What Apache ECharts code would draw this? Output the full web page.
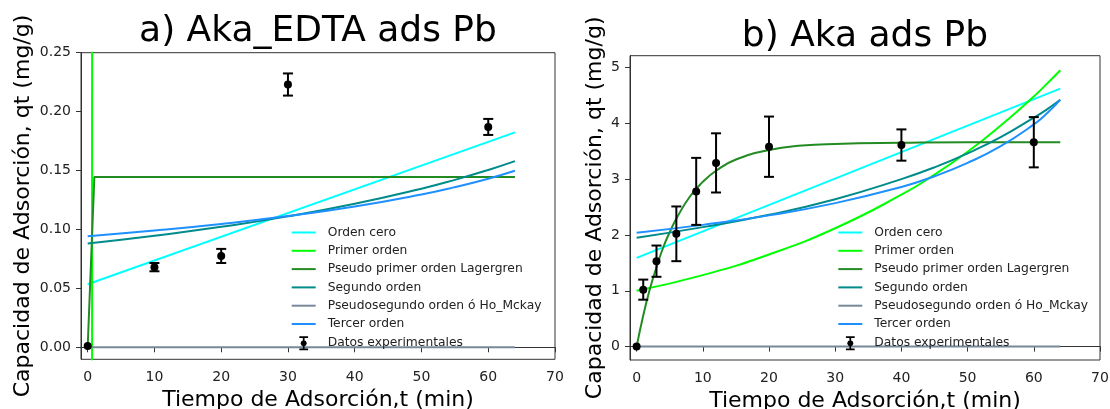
<!DOCTYPE html>
<html>
<head>
<meta charset="utf-8">
<script src="https://cdn.jsdelivr.net/npm/echarts@6/dist/echarts.min.js"></script>
<style>
html, body { margin: 0; padding: 0; background: #fff; }
#chart { width: 1110px; height: 409px; }
</style>
</head>
<body>
<div id="chart"></div>
<script>
// etiquetas de los ejes
var xTicks = [0, 10, 20, 30, 40, 50, 60, 70];
var yTicksA = [0, 0.05, 0.10, 0.15, 0.20, 0.25];
var yTicksB = [0, 1, 2, 3, 4, 5];

var legendNames = ['Orden cero', 'Primer orden', 'Pseudo primer orden Lagergren', 'Segundo orden',
    'Pseudosegundo orden ó Ho_Mckay', 'Tercer orden', 'Datos experimentales'];

// a) Aka_EDTA ads Pb
var tExpA = [0, 10, 20, 30, 60];
var qExpA = [0.001, 0.068, 0.0775, 0.223, 0.187];
var errA = [0, 0.0035, 0.006, 0.0094, 0.0068];

var tRectaA = [0, 64];
var ceroA = [0.0535, 0.1824];
var hoA = [0, 0];
var tPrimerA = [0, 1];
var primerA = [-66, 34];
var tLagerA = [0, 1, 64];
var lagerA = [0, 0.1445, 0.1445];
var tCurvaA = [0, 10, 20, 30, 40, 50, 55, 60, 64];
var segundoA = [0.0881, 0.0947, 0.1022, 0.1111, 0.1218, 0.1346, 0.1421, 0.1505, 0.158];
var tercerA = [0.0943, 0.0991, 0.1047, 0.1114, 0.1195, 0.1297, 0.1359, 0.1431, 0.1498];

// b) Aka ads Pb
var tExpB = [0, 1, 3, 6, 9, 12, 20, 40, 60];
var qExpB = [0, 1.02, 1.53, 2.02, 2.78, 3.29, 3.58, 3.61, 3.66];
var errB = [0, 0.18, 0.28, 0.49, 0.6, 0.53, 0.54, 0.28, 0.45];

var tRectaB = [0, 64];
var ceroB = [1.59, 4.62];
var hoB = [0, 0];
var tLagerB = [0, 1, 2, 3, 4, 5, 6, 8, 10, 12, 15, 20, 25, 30, 40, 50, 64];
var lagerB = [0, 0.556, 1.03, 1.42, 1.77, 2.05, 2.29, 2.68, 2.95, 3.15, 3.35, 3.52, 3.6, 3.63, 3.65, 3.66, 3.66];
var tCurvaB = [0, 10, 20, 30, 40, 45, 50, 55, 60, 62, 64];
var primerB = [1.0, 1.28, 1.65, 2.12, 2.72, 3.08, 3.49, 3.96, 4.48, 4.71, 4.95];
var segundoB = [1.95, 2.14, 2.36, 2.64, 3.0, 3.21, 3.46, 3.75, 4.1, 4.25, 4.42];
var tercerB = [2.04, 2.18, 2.35, 2.57, 2.86, 3.05, 3.29, 3.59, 3.98, 4.18, 4.42];

var colores = {
    'Orden cero': '#00FFFF',
    'Primer orden': '#00FF00',
    'Pseudo primer orden Lagergren': '#228B22',
    'Segundo orden': '#008B8B',
    'Pseudosegundo orden ó Ho_Mckay': '#778899',
    'Tercer orden': '#1E90FF'
};

var fuente = 'DejaVu Sans';
var iconoLinea = 'path://M0,0h24v2h-24z';
// barra de error con punto, solo trazos rectos
var iconoError = 'path://M0,0h10v2h-10z M4,0h2v16h-2z M0,14h10v2h-10z ' +
    'M8.6,8L7.5,10.5L5,11.6L2.5,10.5L1.4,8L2.5,5.5L5,4.4L7.5,5.5z';

function pares(t, v) {
    var out = [];
    for (var i = 0; i < t.length; i++) out.push([t[i], v[i]]);
    return out;
}

function linea(nombre, t, v, idx, suave) {
    return {
        name: nombre,
        type: 'line',
        xAxisIndex: idx,
        yAxisIndex: idx,
        data: pares(t, v),
        symbol: 'none',
        smooth: suave ? 0.5 : false,
        clip: true,
        color: colores[nombre],
        lineStyle: { width: 2, color: colores[nombre] },
        emphasis: { disabled: true },
        z: 2
    };
}

function barrasError(t, q, e, idx) {
    var data = [];
    for (var i = 0; i < t.length; i++) {
        if (e[i] > 0) data.push([t[i], q[i] - e[i], q[i] + e[i]]);
    }
    return {
        name: 'Datos experimentales',
        type: 'custom',
        xAxisIndex: idx,
        yAxisIndex: idx,
        data: data,
        itemStyle: { color: '#000' },
        z: 4,
        renderItem: function (params, api) {
            var lo = api.coord([api.value(0), api.value(1)]);
            var hi = api.coord([api.value(0), api.value(2)]);
            var w = 5;
            var st = { stroke: '#000', lineWidth: 2 };
            return {
                type: 'group',
                children: [
                    { type: 'line', shape: { x1: lo[0], y1: lo[1], x2: hi[0], y2: hi[1] }, style: st },
                    { type: 'line', shape: { x1: lo[0] - w, y1: lo[1], x2: lo[0] + w, y2: lo[1] }, style: st },
                    { type: 'line', shape: { x1: hi[0] - w, y1: hi[1], x2: hi[0] + w, y2: hi[1] }, style: st }
                ]
            };
        }
    };
}

function puntos(t, q, idx) {
    return {
        name: 'Datos experimentales',
        type: 'scatter',
        xAxisIndex: idx,
        yAxisIndex: idx,
        data: pares(t, q),
        symbolSize: 8,
        color: '#000',
        itemStyle: { color: '#000', opacity: 1 },
        emphasis: { disabled: true },
        z: 5
    };
}

function ejeX(idx) {
    return {
        type: 'value',
        gridIndex: idx,
        min: -1,
        max: 70,
        name: 'Tiempo de Adsorción,t (min)',
        nameLocation: 'middle',
        nameGap: 28,
        nameTextStyle: { fontFamily: fuente, fontSize: 22, color: '#000' },
        axisLine: { show: true, lineStyle: { color: '#333', width: 1 } },
        axisTick: { show: true, length: 5, customValues: xTicks, lineStyle: { color: '#333' } },
        axisLabel: { customValues: xTicks, margin: 11, fontFamily: fuente, fontSize: 14, color: '#222' },
        splitLine: { show: false }
    };
}

function ejeY(idx, ticks, min, max, gap, decimales) {
    return {
        type: 'value',
        gridIndex: idx,
        min: min,
        max: max,
        name: 'Capacidad de Adsorción, qt (mg/g)',
        nameLocation: 'middle',
        nameRotate: 90,
        nameGap: gap,
        nameTextStyle: { fontFamily: fuente, fontSize: 22, color: '#000' },
        axisLine: { show: true, onZero: false, lineStyle: { color: '#333', width: 1 } },
        axisTick: { show: true, length: 5, customValues: ticks, lineStyle: { color: '#333' } },
        axisLabel: {
            customValues: ticks, margin: 10, fontFamily: fuente, fontSize: 14, color: '#222',
            formatter: function (v) { return v.toFixed(decimales); }
        },
        splitLine: { show: false }
    };
}

function leyenda(izq) {
    var data = legendNames.map(function (n) {
        if (n === 'Datos experimentales') {
            return { name: n, icon: iconoError, itemStyle: { color: '#000', borderWidth: 0, opacity: 1 } };
        }
        return { name: n, icon: iconoLinea };
    });
    return {
        orient: 'vertical',
        left: izq,
        top: 226.5,
        padding: 0,
        itemWidth: 24,
        itemHeight: 14,
        itemGap: 6.3,
        selectedMode: false,
        textStyle: { fontFamily: fuente, fontSize: 12.3, color: '#222', padding: [0, 0, 0, 7] },
        data: data
    };
}

var myChart = echarts.init(document.getElementById('chart'));

var option = {
    backgroundColor: '#fff',
    animation: false,
    title: [
        { text: 'a) Aka_EDTA ads Pb', left: 318, top: 14, textAlign: 'center', padding: 0,
          textStyle: { fontFamily: fuente, fontSize: 36, fontWeight: 'normal', color: '#000' } },
        { text: 'b) Aka ads Pb', left: 865, top: 19, textAlign: 'center', padding: 0,
          textStyle: { fontFamily: fuente, fontSize: 36, fontWeight: 'normal', color: '#000' } }
    ],
    grid: [
        { left: 81, top: 52.7, width: 474, height: 306.6, outerBoundsMode: 'none',
          show: true, borderColor: '#333', borderWidth: 1, backgroundColor: 'transparent' },
        { left: 630, top: 55.7, width: 470, height: 304.3, outerBoundsMode: 'none',
          show: true, borderColor: '#333', borderWidth: 1, backgroundColor: 'transparent' }
    ],
    xAxis: [ejeX(0), ejeX(1)],
    yAxis: [
        ejeY(0, yTicksA, -0.0102, 0.25, 47, 2),
        ejeY(1, yTicksB, -0.24, 5.21, 24, 0)
    ],
    legend: [leyenda(291.7), leyenda(838.3)],
    series: [
        puntos(tExpA, qExpA, 0),
        linea('Orden cero', tRectaA, ceroA, 0, false),
        linea('Primer orden', tPrimerA, primerA, 0, false),
        linea('Pseudo primer orden Lagergren', tLagerA, lagerA, 0, false),
        linea('Segundo orden', tCurvaA, segundoA, 0, true),
        linea('Pseudosegundo orden ó Ho_Mckay', tRectaA, hoA, 0, false),
        linea('Tercer orden', tCurvaA, tercerA, 0, true),
        barrasError(tExpA, qExpA, errA, 0),

        puntos(tExpB, qExpB, 1),
        linea('Orden cero', tRectaB, ceroB, 1, false),
        linea('Primer orden', tCurvaB, primerB, 1, true),
        linea('Pseudo primer orden Lagergren', tLagerB, lagerB, 1, true),
        linea('Segundo orden', tCurvaB, segundoB, 1, true),
        linea('Pseudosegundo orden ó Ho_Mckay', tRectaB, hoB, 1, false),
        linea('Tercer orden', tCurvaB, tercerB, 1, true),
        barrasError(tExpB, qExpB, errB, 1)
    ]
};

myChart.setOption(option);
</script>
</body>
</html>
